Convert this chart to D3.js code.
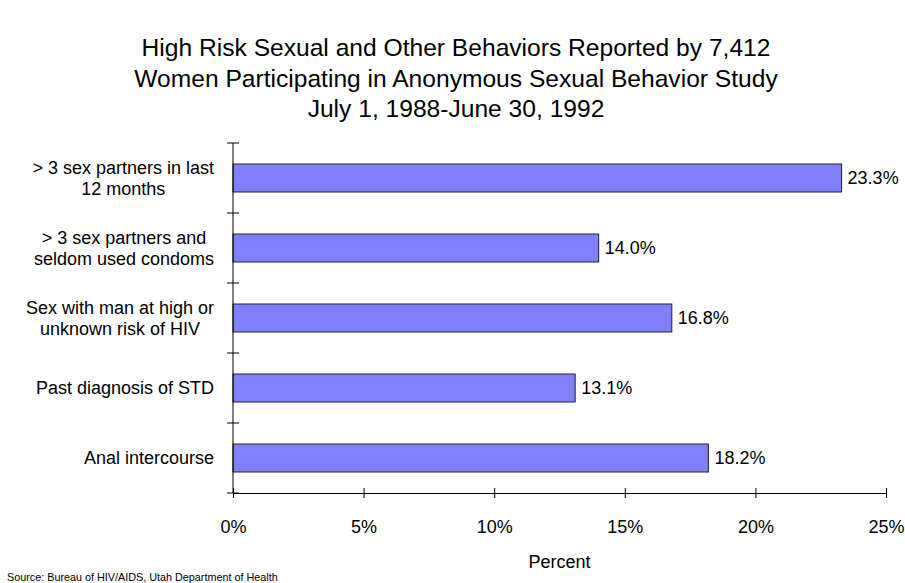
<!DOCTYPE html>
<html>
<head>
<meta charset="utf-8">
<script src="https://cdn.jsdelivr.net/npm/d3@7"></script>
<style>
  html, body { margin: 0; padding: 0; background: #fff; }
  svg { display: block; font-family: Arial, "Liberation Sans", sans-serif; }
</style>
</head>
<body>
<svg id="chart" width="905" height="583"></svg>
<script>
const titleLines = [
  "High Risk Sexual and Other Behaviors Reported by 7,412",
  "Women Participating in Anonymous Sexual Behavior Study",
  "July 1, 1988-June 30, 1992"
];
const categories = [
  ["> 3 sex partners in last", "12 months"],
  ["> 3 sex partners and", "seldom used condoms"],
  ["Sex with man at high or", "unknown risk of HIV"],
  ["Past diagnosis of STD"],
  ["Anal intercourse"]
];
const values = [23.3, 14.0, 16.8, 13.1, 18.2];
const xTicks = [0, 5, 10, 15, 20, 25];
const xAxisTitle = "Percent";
const sourceNote = "Source:  Bureau of HIV/AIDS, Utah Department of Health";

const svg = d3.select("#chart");
const margin = {left: 233, right: 19, top: 143, bottom: 90};
const W = 905, H = 583;
const x = d3.scaleLinear().domain([0, 25]).range([margin.left, W - margin.right]);
const y = d3.scaleBand().domain(d3.range(categories.length))
  .range([margin.top, H - margin.bottom]).paddingInner(0.6).paddingOuter(0.3);

// Title
const title = svg.append("text").attr("x", 456).attr("y", 56)
  .attr("text-anchor", "middle").attr("font-size", 24.6).attr("fill", "#000");
titleLines.forEach((t, i) => title.append("tspan").attr("x", 456).attr("dy", i === 0 ? 0 : 30.5).text(t));

// Bars
svg.append("g").selectAll("rect").data(values).join("rect")
  .attr("x", x(0)).attr("y", (d, i) => y(i))
  .attr("width", d => x(d) - x(0)).attr("height", y.bandwidth())
  .attr("fill", "#8080FF").attr("stroke", "#222").attr("stroke-width", 1);

// Value labels
svg.append("g").selectAll("text").data(values).join("text")
  .attr("x", d => x(d) + 6).attr("y", (d, i) => y(i) + y.bandwidth() / 2)
  .attr("dy", "0.35em").attr("font-size", 18).attr("fill", "#000")
  .text(d => d.toFixed(1) + "%");

// X axis
const xAxis = svg.append("g").attr("transform", `translate(0,${H - margin.bottom})`)
  .call(d3.axisBottom(x).tickValues(xTicks).tickSizeInner(5).tickSizeOuter(0).tickPadding(22)
    .tickFormat(d => d + "%"));
xAxis.selectAll(".tick line").attr("y1", -5).attr("y2", 5).attr("stroke", "#000");
xAxis.select(".domain").attr("stroke", "#000");
xAxis.selectAll(".tick text").attr("font-size", 18).attr("font-family", "Arial, 'Liberation Sans', sans-serif").attr("fill", "#000");

// Y axis (ticks at band boundaries)
const yBounds = d3.range(categories.length + 1).map(i => margin.top + i * (H - margin.top - margin.bottom) / categories.length);
const yAx = svg.append("g");
yAx.append("line").attr("x1", x(0)).attr("x2", x(0)).attr("y1", margin.top).attr("y2", H - margin.bottom).attr("stroke", "#000");
yAx.selectAll("line.t").data(yBounds).join("line").attr("class", "t")
  .attr("x1", x(0) - 6).attr("x2", x(0) + 6).attr("y1", d => d).attr("y2", d => d).attr("stroke", "#000");

// Category labels (centered lines in right-aligned block)
const labelRight = x(0) - 19;
categories.forEach((lines, i) => {
  const cy = y(i) + y.bandwidth() / 2;
  const g = svg.append("text").attr("font-size", 18).attr("fill", "#000").attr("text-anchor", "middle");
  const lh = 21.5;
  const tsp = lines.map((l, j) => g.append("tspan").attr("y", cy + (j - (lines.length - 1) / 2) * lh).attr("dy", "0.35em").text(l));
  const maxW = d3.max(tsp, t => t.node().getComputedTextLength());
  tsp.forEach(t => t.attr("x", labelRight - maxW / 2));
});

// Axis title
svg.append("text").attr("x", x(12.5)).attr("y", 568).attr("text-anchor", "middle")
  .attr("font-size", 18).attr("fill", "#000").text(xAxisTitle);

// Source
svg.append("text").attr("x", 7).attr("y", 581).attr("font-size", 10.8).attr("fill", "#000").text(sourceNote);
</script>
</body>
</html>
